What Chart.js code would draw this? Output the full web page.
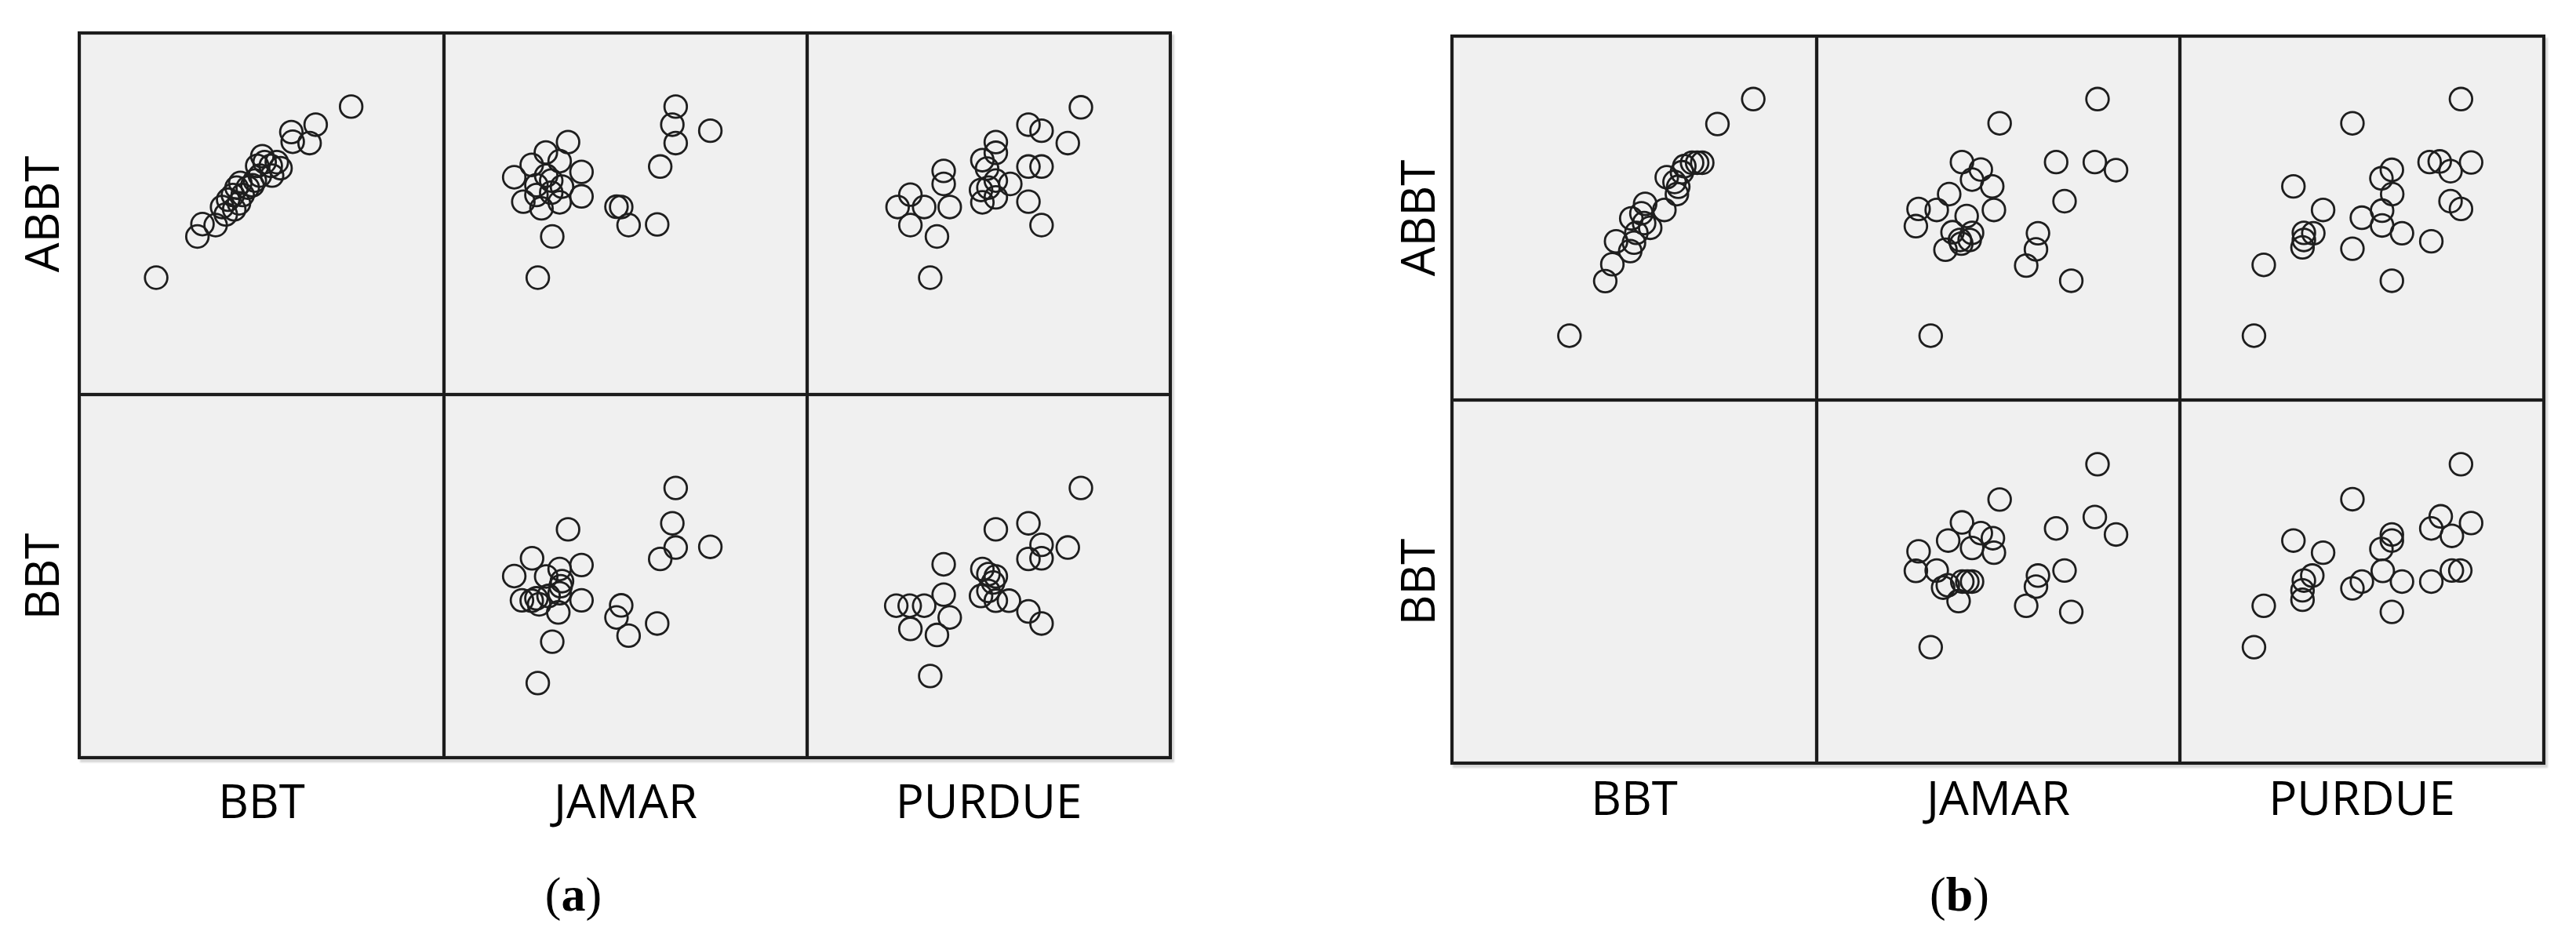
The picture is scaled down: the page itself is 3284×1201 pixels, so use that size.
<!DOCTYPE html>
<html>
<head>
<meta charset="utf-8">
<title>Scatterplot matrices (a) and (b)</title>
<script src="https://cdn.jsdelivr.net/npm/chart.js@4.4.0/dist/chart.umd.min.js"></script>
<style>
  body { margin: 0; background: #fff; width: 3284px; height: 1201px; position: relative; overflow: hidden; font-family: "Open Sans", sans-serif; }
  canvas.cell { position: absolute; }
  .frame { position: absolute; border: 2px solid #1c1c1c; box-shadow: 3px 4px 2px rgba(0,0,0,0.16); pointer-events: none; }
  .lbl { position: absolute; font-size: 60px; color: #000; white-space: nowrap; line-height: 1; transform: translate(-50%, -50%); }
  .lbl.rot { transform: translate(-50%, -50%) rotate(-90deg); }
  .cap { position: absolute; font-family: "Liberation Serif", "DejaVu Serif", serif; font-size: 62px; line-height: 1; transform: translate(-50%, -50%); }
</style>
</head>
<body>
<script>
// variable names of the matrix
const colNames = ["BBT", "JAMAR", "PURDUE"];
const rowNames = ["ABBT", "BBT"];

// panel (a): points as [x, y], both axes 0..100 inside each cell
const aAbbtBbt = [
  [18.8, 30.9], [31.0, 43.2], [32.5, 46.9], [36.4, 46.6], [38.3, 52.0], [40.1, 54.2],
  [41.5, 55.6], [42.6, 57.8], [43.7, 59.2], [41.9, 51.3], [44.4, 55.6], [45.9, 57.8],
  [48.0, 59.9], [49.5, 61.4], [48.7, 64.3], [50.2, 67.2], [50.9, 65.4], [52.7, 64.3],
  [54.5, 65.4], [55.6, 63.6], [53.1, 61.4], [47.3, 58.5], [43.3, 53.1], [39.4, 49.8],
  [58.8, 74.4], [59.2, 71.5], [64.2, 71.1], [66.0, 76.6], [76.5, 82.0]
];
const aAbbtJamar = [
  [64.9, 82.0], [63.9, 76.6], [64.9, 71.1], [75.2, 74.8], [60.3, 64.1], [32.9, 71.4],
  [26.3, 68.3], [22.1, 64.6], [30.4, 65.7], [16.9, 60.9], [36.9, 62.5], [23.5, 58.5],
  [27.9, 59.9], [31.1, 58.1], [26.4, 61.4], [36.9, 55.2], [19.6, 53.6], [25.0, 51.6],
  [30.4, 53.4], [23.5, 55.6], [27.9, 56.3], [47.3, 52.1], [48.7, 52.0], [50.9, 46.6],
  [59.4, 46.8], [28.2, 43.2], [23.9, 30.9]
];
const aAbbtPurdue = [
  [77.4, 81.8], [61.8, 76.6], [65.7, 74.8], [73.5, 71.1], [52.1, 71.4], [52.1, 68.2],
  [48.1, 66.0], [49.5, 63.5], [36.6, 62.8], [36.6, 58.9], [61.8, 64.1], [65.7, 64.1],
  [56.4, 58.9], [52.1, 59.9], [47.7, 57.1], [48.1, 53.4], [52.1, 54.9], [49.9, 57.8],
  [26.7, 55.7], [22.9, 52.0], [30.8, 52.0], [26.7, 46.6], [38.4, 52.0], [61.8, 53.6],
  [65.7, 46.6], [34.6, 43.2], [32.6, 30.9]
];
const aBbtJamar = [
  [64.9, 76.2], [63.9, 65.7], [32.9, 63.9], [64.9, 58.5], [75.2, 58.7], [60.3, 55.1],
  [22.2, 55.3], [36.9, 53.3], [16.9, 50.0], [30.4, 52.1], [26.4, 49.9], [31.1, 48.5],
  [30.7, 47.0], [19.2, 42.8], [22.1, 42.7], [24.3, 41.6], [23.5, 43.4], [27.1, 44.1],
  [30.4, 44.9], [36.9, 42.8], [30.0, 39.2], [48.7, 41.3], [47.3, 37.7], [50.9, 32.3],
  [59.4, 35.9], [28.2, 30.5], [23.9, 18.2]
];
const aBbtPurdue = [
  [77.4, 76.2], [61.8, 65.7], [52.1, 63.9], [65.7, 59.3], [73.5, 58.5], [61.8, 55.1],
  [65.7, 55.3], [36.6, 53.5], [48.1, 52.1], [49.9, 50.6], [52.1, 49.9], [51.3, 48.1],
  [47.7, 44.1], [52.1, 42.7], [56.0, 42.7], [49.9, 45.6], [36.6, 44.5], [22.5, 41.2],
  [26.5, 41.2], [30.8, 41.2], [38.4, 37.7], [61.8, 39.5], [65.7, 35.9], [26.7, 34.3],
  [34.6, 32.5], [32.6, 20.3]
];

// panel (b)
const bAbbtBbt = [
  [30.8, 15.1], [41.4, 31.3], [43.5, 36.3], [44.6, 43.1], [48.8, 40.2], [49.1, 49.9],
  [50.6, 45.6], [53.2, 54.2], [52.9, 48.5], [54.7, 47.1], [58.9, 52.4], [59.6, 62.1],
  [62.6, 57.1], [63.0, 59.3], [64.8, 65.4], [67.1, 66.4], [68.6, 66.4], [70.1, 66.4],
  [64.1, 63.6], [74.6, 77.9], [85.2, 85.3], [52.1, 51.4], [49.9, 42.7], [61.9, 60.7]
];
const bAbbtJamar = [
  [79.5, 85.3], [50.4, 78.1], [39.2, 66.6], [44.8, 64.4], [42.2, 61.4], [48.2, 59.4],
  [35.4, 57.1], [26.3, 52.7], [31.7, 52.4], [25.5, 47.6], [40.6, 50.6], [48.7, 52.4],
  [36.4, 45.8], [38.6, 43.5], [41.5, 43.5], [42.2, 45.6], [34.3, 40.6], [39.0, 42.4],
  [67.2, 66.6], [78.7, 66.6], [85.0, 64.2], [69.7, 55.0], [61.8, 45.5], [61.2, 40.7],
  [58.3, 35.9], [71.7, 31.4], [29.9, 15.1]
];
const bAbbtPurdue = [
  [79.4, 85.3], [47.2, 78.1], [70.1, 66.6], [73.1, 66.8], [76.3, 63.9], [82.4, 66.5],
  [58.9, 64.3], [55.8, 61.8], [29.7, 59.4], [59.0, 57.1], [76.3, 55.0], [79.4, 52.7],
  [38.5, 52.4], [50.0, 50.1], [56.0, 52.2], [56.0, 47.8], [61.9, 45.5], [70.6, 43.1],
  [32.8, 45.6], [32.8, 43.5], [32.4, 41.3], [35.6, 45.5], [47.2, 40.9], [20.9, 36.1],
  [58.9, 31.4], [18.0, 15.1]
];
const bBbtJamar = [
  [79.5, 84.9], [50.4, 74.4], [39.2, 67.6], [44.8, 64.4], [35.1, 62.2], [48.4, 62.9],
  [42.2, 60.0], [48.7, 58.6], [26.3, 59.0], [25.5, 53.2], [31.7, 53.3], [35.0, 48.9],
  [33.6, 48.2], [39.3, 50.0], [40.8, 50.0], [42.2, 50.0], [38.2, 44.2], [67.2, 65.8],
  [78.7, 69.2], [85.0, 64.0], [69.7, 53.3], [61.8, 51.8], [61.2, 48.5], [58.3, 42.8],
  [71.7, 41.0], [29.9, 30.5]
];
const bBbtPurdue = [
  [79.4, 84.9], [47.2, 74.5], [29.7, 62.2], [38.5, 58.6], [58.9, 64.0], [58.9, 62.2],
  [55.8, 59.7], [70.6, 65.8], [73.4, 69.4], [76.7, 63.6], [82.4, 67.4], [56.2, 53.2],
  [35.3, 51.8], [32.8, 50.3], [32.4, 47.4], [32.4, 44.6], [50.0, 50.0], [47.2, 48.0],
  [61.9, 50.0], [70.6, 50.0], [76.7, 53.3], [79.2, 53.3], [20.9, 42.8], [58.9, 41.0],
  [18.0, 30.5]
];

// where each matrix sits on the page
const matrices = [
  { caption: "a", xs: [101, 566, 1029, 1492], ys: [42, 503, 966], rowLabelX: 52, colLabelY: 1020, capX: 731, capY: 1140,
    cells: [[aAbbtBbt, aAbbtJamar, aAbbtPurdue], [null, aBbtJamar, aBbtPurdue]] },
  { caption: "b", xs: [1851, 2316, 2779, 3243], ys: [46, 510, 973], rowLabelX: 1806, colLabelY: 1016, capX: 2498, capY: 1140,
    cells: [[bAbbtBbt, bAbbtJamar, bAbbtPurdue], [null, bBbtJamar, bBbtPurdue]] }
];

// grey cell background + dark border
const cellFrame = {
  id: "cellFrame",
  beforeDraw(chart) {
    const ctx = chart.ctx;
    ctx.save();
    ctx.fillStyle = "#f0f0f0";
    ctx.fillRect(0, 0, chart.width, chart.height);
    ctx.restore();
  },
  afterDraw(chart) {
    const ctx = chart.ctx;
    ctx.save();
    ctx.strokeStyle = "#1c1c1c";
    ctx.lineWidth = 2;
    ctx.strokeRect(1, 1, chart.width - 2, chart.height - 2);
    ctx.strokeStyle = "#d4d4d4";
    ctx.lineWidth = 1;
    ctx.strokeRect(2.5, 2.5, chart.width - 5, chart.height - 5);
    ctx.restore();
  }
};

function addText(cls, html, x, y) {
  const d = document.createElement("div");
  d.className = cls;
  d.innerHTML = html;
  d.style.left = x + "px";
  d.style.top = y + "px";
  document.body.appendChild(d);
}

function makeCell(points, left, top, w, h) {
  const cv = document.createElement("canvas");
  cv.className = "cell";
  cv.width = w;
  cv.height = h;
  cv.style.left = left + "px";
  cv.style.top = top + "px";
  document.body.appendChild(cv);

  new Chart(cv.getContext("2d"), {
    type: "scatter",
    data: {
      datasets: [{
        data: (points || []).map(p => ({ x: p[0], y: p[1] })),
        pointStyle: "circle",
        pointRadius: 14.3,
        pointBorderWidth: 2.8,
        pointBorderColor: "#1e1e1e",
        pointBackgroundColor: "rgba(0,0,0,0)",
        showLine: false
      }]
    },
    options: {
      responsive: false,
      animation: false,
      events: [],
      layout: { padding: 0 },
      plugins: { legend: { display: false }, tooltip: { enabled: false } },
      scales: {
        x: { type: "linear", min: 0, max: 100, display: false },
        y: { type: "linear", min: 0, max: 100, display: false }
      }
    },
    plugins: [cellFrame]
  });
}

matrices.forEach(m => {
  for (let r = 0; r < rowNames.length; r++) {
    for (let c = 0; c < colNames.length; c++) {
      makeCell(m.cells[r][c], m.xs[c], m.ys[r], m.xs[c + 1] - m.xs[c], m.ys[r + 1] - m.ys[r]);
    }
  }

  // outer frame
  const f = document.createElement("div");
  f.className = "frame";
  f.style.left = (m.xs[0] - 2) + "px";
  f.style.top = (m.ys[0] - 2) + "px";
  f.style.width = (m.xs[3] - m.xs[0]) + "px";
  f.style.height = (m.ys[2] - m.ys[0]) + "px";
  document.body.appendChild(f);

  rowNames.forEach((name, r) => {
    addText("lbl rot", name, m.rowLabelX, (m.ys[r] + m.ys[r + 1]) / 2);
  });
  colNames.forEach((name, c) => {
    addText("lbl", name, (m.xs[c] + m.xs[c + 1]) / 2, m.colLabelY);
  });
  addText("cap", "(<b>" + m.caption + "</b>)", m.capX, m.capY);
});
</script>
</body>
</html>
